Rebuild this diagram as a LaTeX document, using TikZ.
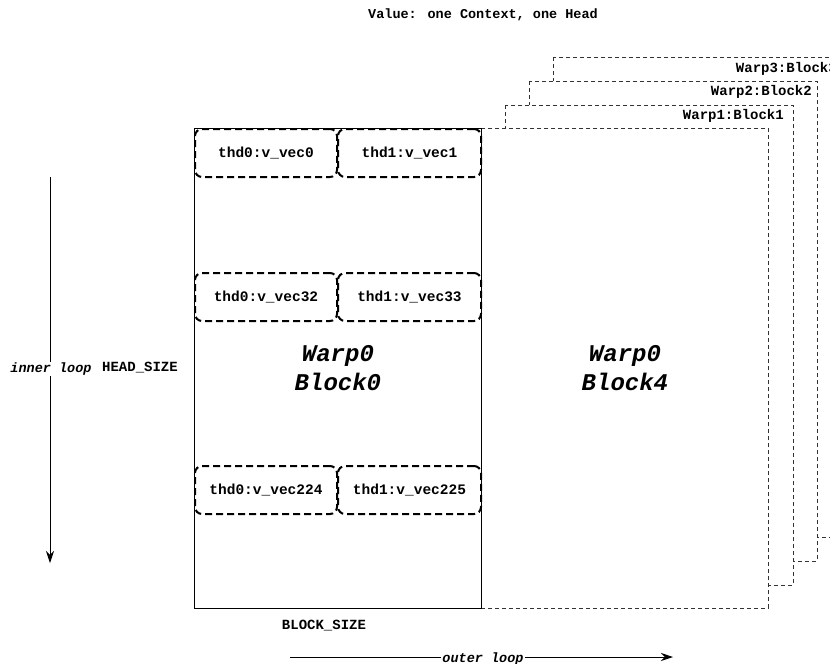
\documentclass[tikz,border=0pt]{standalone}
\usepackage{fontspec}
\setmainfont{Liberation Mono}
\usetikzlibrary{arrows.meta}
\begin{document}
\begin{tikzpicture}[x=1pt,y=-1pt,
  txt/.style={font=\fontsize{14}{16}\selectfont\bfseries, inner sep=1pt},
  itxt/.style={font=\fontsize{13.5}{16}\selectfont\bfseries\itshape, inner sep=1pt, fill=white},
  big/.style={font=\fontsize{24}{29}\selectfont\bfseries\itshape, align=center},
  warpbox/.style={draw=black!80, line width=0.9pt, dash pattern=on 4pt off 3pt, fill=white},
  thdbox/.style={draw=black, line width=2pt, dash pattern=on 7pt off 4pt, rounded corners=7pt,
     minimum height=48pt, inner sep=0pt, font=\fontsize{14.5}{16}\selectfont\bfseries},
  arr/.style={line width=0.9pt, -{Stealth[length=12pt,width=8pt]}}
]
\useasboundingbox (0,0) rectangle (830,664);
\clip (0,0) rectangle (830,664);
\node[txt, font=\fontsize{13.5}{16}\selectfont\bfseries] (title) at (483,15) {Value: one Context, one Head};
% stacked warp boxes
\draw[warpbox] (553,57) rectangle (841,537);
\node[txt, anchor=east] (w3) at (838,69) {Warp3:Block3};
\draw[warpbox] (529,81) rectangle (817,561);
\node[txt, anchor=east] (w2) at (813,92) {Warp2:Block2};
\draw[warpbox] (505,105) rectangle (793,585);
\node[txt, anchor=east] (w1) at (785,116) {Warp1:Block1};
\node[warpbox, minimum width=287pt, minimum height=480pt, anchor=north west, inner sep=0pt] (b4) at (481,128) {};
\node[big] (b4t) at (b4.center) {Warp0\\Block4};
\node[draw=black, line width=0.9pt, minimum width=287pt, minimum height=480pt, anchor=north west, inner sep=0pt] (b0) at (194,128) {};
\node[big] (b0t) at (b0.center) {Warp0\\Block0};
% thread boxes
\node[thdbox, minimum width=142pt, anchor=north west] (t00) at (194,128) {thd0:v\_vec0};
\node[thdbox, minimum width=143pt, anchor=north west] (t01) at (337,128) {thd1:v\_vec1};
\node[thdbox, minimum width=142pt, anchor=north west] (t10) at (194,272) {thd0:v\_vec32};
\node[thdbox, minimum width=143pt, anchor=north west] (t11) at (337,272) {thd1:v\_vec33};
\node[thdbox, minimum width=142pt, anchor=north west] (t20) at (194,465) {thd0:v\_vec224};
\node[thdbox, minimum width=143pt, anchor=north west] (t21) at (337,465) {thd1:v\_vec225};
% inner loop
\coordinate (ia) at (50,177);
\coordinate (ib) at (50,563);
\draw[arr] (ia) -- (ib);
\node[itxt] (il) at (51,369) {inner loop};
\node[txt] (hs) at (140,368) {HEAD\_SIZE};
% outer loop
\node[txt] (bs) at (324,626) {BLOCK\_SIZE};
\coordinate (oa) at (290,657);
\coordinate (ob) at (673,657);
\draw[arr] (oa) -- (ob);
\node[itxt, inner ysep=0pt] (ol) at (483,659) {outer loop};
\end{tikzpicture}
\end{document}
